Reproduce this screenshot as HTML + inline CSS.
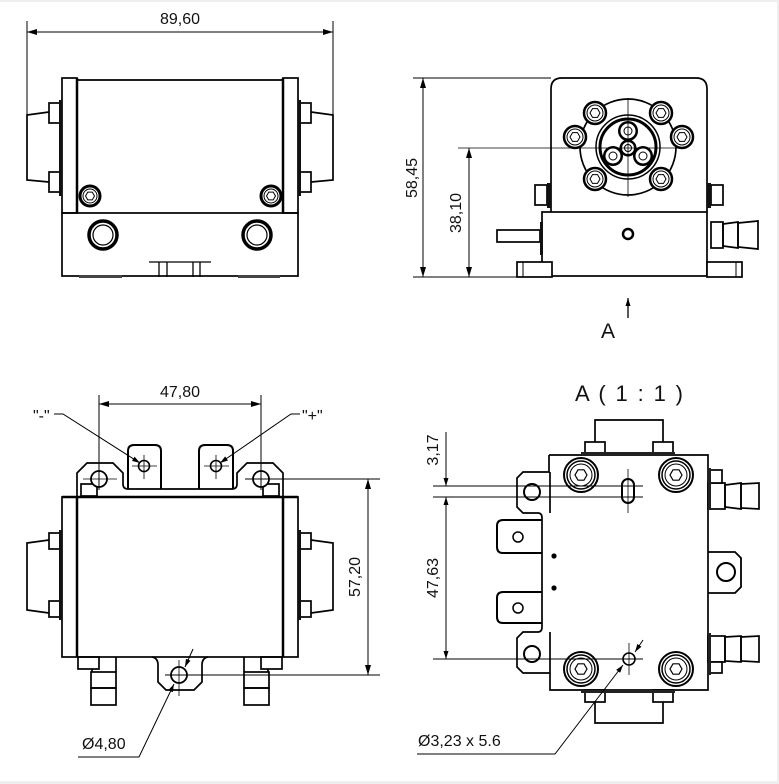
<!DOCTYPE html>
<html><head><meta charset="utf-8"><style>
html,body{margin:0;padding:0;background:#fff;}
svg{display:block;}
text{font-family:"Liberation Sans",sans-serif;fill:#111;stroke:none;}
</style></head><body>
<svg width="779" height="784" viewBox="0 0 779 784" xmlns="http://www.w3.org/2000/svg">
<defs>
<marker id="ar" viewBox="0 0 10 6" refX="10" refY="3" markerWidth="10" markerHeight="6" markerUnits="userSpaceOnUse" orient="auto-start-reverse"><path d="M0,0 L10,3 L0,6 z" fill="#000"/></marker>
<marker id="as" viewBox="0 0 8 5" refX="8" refY="2.5" markerWidth="8" markerHeight="5" markerUnits="userSpaceOnUse" orient="auto-start-reverse"><path d="M0,0 L8,2.5 L0,5 z" fill="#000"/></marker>
<g id="bA"><circle r="10" fill="#fff" stroke="#000" stroke-width="3"/><circle r="7" fill="none" stroke="#000" stroke-width="1"/><polygon points="4.5,0 2.25,3.9 -2.25,3.9 -4.5,0 -2.25,-3.9 2.25,-3.9" fill="none" stroke="#000" stroke-width="1"/></g>
<g id="bB"><circle r="11" fill="#fff" stroke="#000" stroke-width="2.5"/><circle r="8" fill="none" stroke="#000" stroke-width="1"/><polygon points="5,0 2.5,4.33 -2.5,4.33 -5,0 -2.5,-4.33 2.5,-4.33" fill="none" stroke="#000" stroke-width="1"/></g>
<g id="bC"><circle r="17" fill="#fff" stroke="#000" stroke-width="2"/><circle r="14" fill="none" stroke="#000" stroke-width="1.5"/><circle r="11" fill="none" stroke="#000" stroke-width="1"/><polygon points="6,0 3,5.2 -3,5.2 -6,0 -3,-5.2 3,-5.2" fill="none" stroke="#000" stroke-width="1.2"/></g>
</defs>
<rect width="779" height="784" fill="#fff"/>
<rect x="0" y="0" width="779" height="2" fill="#eee"/>
<rect x="777" y="0" width="2" height="784" fill="#eee"/>
<rect x="0" y="781" width="779" height="3" fill="#eee"/>

<!-- ============ TOP-LEFT VIEW ============ -->
<g fill="none" stroke="#000" stroke-width="1.7">
  <rect x="62" y="78" width="15" height="135"/>
  <rect x="283" y="78" width="15" height="135"/>
  <line x1="77" y1="80" x2="283" y2="80"/>
  <rect x="62" y="213" width="236" height="63"/>
  <line x1="77" y1="78" x2="77" y2="213" stroke-width="2.5"/>
  <line x1="283" y1="78" x2="283" y2="213" stroke-width="2.5"/>
  <path d="M49,112 L27,115 L27,180 L49,182"/>
  <path d="M311,112 L333,115 L333,180 L311,182"/>
  <rect x="49" y="103" width="12" height="20" fill="#fff"/>
  <rect x="49" y="172" width="12" height="20" fill="#fff"/>
  <rect x="299" y="103" width="12" height="20" fill="#fff"/>
  <rect x="299" y="172" width="12" height="20" fill="#fff"/>
  <circle cx="103" cy="235" r="14" stroke-width="3.5"/>
  <circle cx="103" cy="235" r="10" stroke-width="1.2"/>
  <circle cx="257" cy="235" r="14" stroke-width="3.5"/>
  <circle cx="257" cy="235" r="10" stroke-width="1.2"/>
  <line x1="149" y1="262" x2="211" y2="262" stroke-width="1.3"/>
  <line x1="159" y1="262" x2="159" y2="277" stroke-width="1.3"/>
  <line x1="167" y1="262" x2="167" y2="277" stroke-width="1.3"/>
  <line x1="193" y1="262" x2="193" y2="277" stroke-width="1.3"/>
  <line x1="200" y1="262" x2="200" y2="277" stroke-width="1.3"/>
</g>
<rect x="59" y="100" width="3" height="96" fill="#111"/>
<rect x="298" y="100" width="3" height="96" fill="#111"/>
<rect x="79" y="275" width="43" height="3" fill="#444"/>
<rect x="238" y="275" width="42" height="3" fill="#444"/>
<use href="#bA" x="90" y="196"/>
<use href="#bA" x="271" y="196"/>
<g stroke="#000" stroke-width="1" fill="none">
  <line x1="27" y1="21" x2="27" y2="115"/>
  <line x1="333" y1="21" x2="333" y2="115"/>
  <line x1="27" y1="32" x2="333" y2="32" marker-start="url(#ar)" marker-end="url(#ar)"/>
</g>
<text x="180" y="24" font-size="16" text-anchor="middle">89,60</text>

<!-- ============ TOP-RIGHT VIEW ============ -->
<g fill="none" stroke="#000" stroke-width="1.7">
  <path d="M551,212 L551,89 Q551,78 562,78 L696,78 Q707,78 707,89 L707,212"/>
  <rect x="542" y="212" width="165" height="64"/>
  <rect x="517" y="262" width="35" height="15" fill="#fff"/>
  <line x1="523" y1="262" x2="523" y2="277" stroke-width="1"/>
  <rect x="707" y="262" width="35" height="15" fill="#fff"/>
  <line x1="736" y1="262" x2="736" y2="277" stroke-width="1"/>
  <rect x="497" y="230" width="43" height="12"/>
  <rect x="535" y="185" width="12" height="20"/>
  <rect x="711" y="185" width="12" height="20"/>
  <rect x="711" y="222" width="12" height="26"/>
  <polygon points="723,224 738,222 738,248 723,246"/>
  <polygon points="738,223 758,221 758,249 738,247"/>
  <circle cx="628" cy="234" r="5" stroke-width="2.5"/>
  <circle cx="628" cy="147" r="48"/>
  <circle cx="628" cy="147" r="32" stroke-width="1.5"/>
  <circle cx="628" cy="147" r="28" stroke-width="3"/>
</g>
<rect x="540" y="222" width="3" height="33" fill="#111"/>
<rect x="547" y="183" width="4" height="25" fill="#111"/>
<rect x="707" y="183" width="4" height="25" fill="#111"/>
<g stroke="none">
  <circle cx="628" cy="131" r="10" fill="#000"/>
  <circle cx="613" cy="156" r="10" fill="#000"/>
  <circle cx="643" cy="156" r="10" fill="#000"/>
  <circle cx="628" cy="148" r="8.5" fill="#000"/>
  <circle cx="628" cy="131" r="7.5" fill="#fff"/>
  <circle cx="613" cy="156" r="7.5" fill="#fff"/>
  <circle cx="643" cy="156" r="7.5" fill="#fff"/>
  <circle cx="628" cy="148" r="6" fill="#fff"/>
</g>
<g fill="none" stroke="#000" stroke-width="1">
  <circle cx="628" cy="131" r="4"/>
  <circle cx="613" cy="156" r="4"/>
  <circle cx="643" cy="156" r="4"/>
  <circle cx="628" cy="148" r="3.5"/>
</g>
<use href="#bB" x="595" y="113"/>
<use href="#bB" x="661" y="113"/>
<use href="#bB" x="575" y="137"/>
<use href="#bB" x="682" y="137"/>
<use href="#bB" x="595" y="179"/>
<use href="#bB" x="661" y="179"/>
<g stroke="#000" stroke-width="1" fill="none">
  <line x1="628" y1="98" x2="628" y2="197" stroke-width="0.8"/>
  <line x1="458" y1="148" x2="682" y2="148" stroke-width="0.8"/>
  <line x1="413" y1="78" x2="551" y2="78"/>
  <line x1="413" y1="277" x2="517" y2="277"/>
  <line x1="423" y1="78" x2="423" y2="277" marker-start="url(#ar)" marker-end="url(#ar)"/>
  <line x1="469" y1="148" x2="469" y2="277" marker-start="url(#ar)" marker-end="url(#ar)"/>
  <line x1="628" y1="318" x2="628" y2="298" stroke-width="1.3" marker-end="url(#as)"/>
</g>
<text transform="translate(417,178) rotate(-90)" font-size="16" text-anchor="middle">58,45</text>
<text transform="translate(461,213) rotate(-90)" font-size="16" text-anchor="middle">38,10</text>
<text x="608" y="338" font-size="21" text-anchor="middle">A</text>

<!-- ============ BOTTOM-LEFT VIEW ============ -->
<g fill="none" stroke="#000" stroke-width="1.7">
  <line x1="92" y1="657" x2="92" y2="672"/>
  <rect x="91" y="672" width="25" height="16"/>
  <rect x="91" y="688" width="25" height="17"/>
  <line x1="116" y1="657" x2="116" y2="672"/>
  <rect x="78" y="657" width="21" height="12" fill="#fff"/>
  <line x1="268" y1="657" x2="268" y2="672"/>
  <rect x="244" y="672" width="25" height="16"/>
  <rect x="244" y="688" width="25" height="17"/>
  <line x1="244" y1="657" x2="244" y2="672"/>
  <rect x="261" y="657" width="21" height="12" fill="#fff"/>
  <rect x="62" y="497" width="236" height="160"/>
  <line x1="62" y1="497" x2="298" y2="497" stroke-width="2.5"/>
  <line x1="77" y1="497" x2="77" y2="657" stroke-width="2.5"/>
  <line x1="283" y1="497" x2="283" y2="657" stroke-width="2.5"/>
  <path d="M49,540 L27,543 L27,610 L49,613"/>
  <path d="M311,540 L333,543 L333,610 L311,613"/>
  <rect x="49" y="533" width="12" height="16" fill="#fff"/>
  <rect x="49" y="601" width="12" height="16" fill="#fff"/>
  <rect x="299" y="533" width="12" height="16" fill="#fff"/>
  <rect x="299" y="601" width="12" height="16" fill="#fff"/>
  <path d="M77,497 L77,473 L87,463 L113,463 L123,473 L123,484 Q123,489 128,489 L232,489 Q237,489 237,484 L237,473 L247,463 L273,463 L283,473 L283,497"/>
  <rect x="81" y="484" width="16" height="12" fill="#fff"/>
  <rect x="263" y="484" width="16" height="12" fill="#fff"/>
  <path d="M128,489 L128,451 Q128,445 134,445 L155,445 Q161,445 161,451 L161,489" stroke-width="2"/>
  <path d="M199,489 L199,451 Q199,445 205,445 L227,445 Q233,445 233,451 L233,489" stroke-width="2"/>
  <circle cx="144" cy="466" r="5.5" stroke-width="1.6"/>
  <circle cx="216" cy="466" r="5.5" stroke-width="1.6"/>
  <circle cx="99" cy="479" r="8" stroke-width="1.8" fill="#fff"/>
  <circle cx="261" cy="479" r="8" stroke-width="1.8" fill="#fff"/>
  <path d="M152,657 Q158,658 158,665 L158,682 L166,690 L194,690 L202,682 L202,665 Q202,658 208,657"/>
  <circle cx="179" cy="675" r="8" stroke-width="1.8"/>
</g>
<rect x="59" y="530" width="3" height="90" fill="#111"/>
<rect x="298" y="530" width="3" height="90" fill="#111"/>
<g stroke="#000" stroke-width="1" fill="none">
  <line x1="144" y1="455" x2="144" y2="479" stroke-width="0.8"/>
  <line x1="132" y1="466" x2="157" y2="466" stroke-width="0.8"/>
  <line x1="216" y1="455" x2="216" y2="479" stroke-width="0.8"/>
  <line x1="204" y1="466" x2="229" y2="466" stroke-width="0.8"/>
  <line x1="99" y1="395" x2="99" y2="490"/>
  <line x1="83" y1="479" x2="117" y2="479" stroke-width="0.8"/>
  <line x1="261" y1="395" x2="261" y2="490"/>
  <line x1="245" y1="479" x2="380" y2="479"/>
  <line x1="99" y1="404" x2="261" y2="404" marker-start="url(#ar)" marker-end="url(#ar)"/>
  <path d="M54,414 L63,414 L140,463" marker-end="url(#as)"/>
  <path d="M300,414 L291,414 L220,463" marker-end="url(#as)"/>
  <line x1="165" y1="675" x2="380" y2="675"/>
  <line x1="179" y1="660" x2="179" y2="696" stroke-width="0.8"/>
  <line x1="368" y1="479" x2="368" y2="675" marker-start="url(#ar)" marker-end="url(#ar)"/>
  <path d="M78,757 L139,757 L174,684" marker-end="url(#as)"/>
  <path d="M193,649 L185,667" marker-end="url(#as)"/>
</g>
<text x="180" y="397" font-size="16" text-anchor="middle">47,80</text>
<text x="33" y="421" font-size="16">"-"</text>
<text x="302" y="421" font-size="16">"+"</text>
<text transform="translate(360,577) rotate(-90)" font-size="16" text-anchor="middle">57,20</text>
<text x="82" y="749" font-size="16">Ø4,80</text>

<!-- ============ BOTTOM-RIGHT VIEW ============ -->
<text x="575" y="401" font-size="22" textLength="108" lengthAdjust="spacing">A ( 1 : 1 )</text>
<g fill="none" stroke="#000" stroke-width="1.7">
  <path d="M595,442 L595,420 L663,420 L663,442"/>
  <rect x="585" y="442" width="20" height="11" fill="#fff"/>
  <rect x="653" y="442" width="20" height="11" fill="#fff"/>
  <path d="M595,690 L595,723 L663,723 L663,690"/>
  <rect x="585" y="690" width="20" height="12" fill="#fff"/>
  <rect x="653" y="690" width="20" height="12" fill="#fff"/>
  <path d="M549,455 L708,455 L708,690 L550,690 L550,673"/>
  <path d="M549,455 L549,472 L523,472 L517,478 L517,507 L523,513 L538,513 Q542,513 542,518 L542,627 Q542,632 538,632 L523,632 L517,638 L517,667 L523,673 L550,673"/>
  <line x1="550" y1="472" x2="550" y2="513"/>
  <line x1="550" y1="632" x2="550" y2="673"/>
  <path d="M708,552 L735,552 L741,558 L741,587 L735,593 L708,593" stroke-width="1.8"/>
  <circle cx="726" cy="572" r="9" stroke-width="2"/>
  <path d="M542,520 L503,520 Q497,520 497,526 L497,547 Q497,553 503,553 L542,553" stroke-width="2"/>
  <path d="M542,592 L503,592 Q497,592 497,598 L497,617 Q497,623 503,623 L542,623" stroke-width="2"/>
  <circle cx="518" cy="537" r="5" stroke-width="1.5"/>
  <circle cx="518" cy="608" r="5" stroke-width="1.5"/>
  <circle cx="532" cy="492" r="8" stroke-width="2"/>
  <circle cx="532" cy="654" r="8" stroke-width="2"/>
  <rect x="622" y="479" width="12" height="24" rx="6" stroke-width="2"/>
  <circle cx="629" cy="659" r="6" stroke-width="1.6"/>
  <rect x="708" y="483" width="17" height="26"/>
  <polygon points="725,485 741,483 741,509 725,507"/>
  <polygon points="741,484 759,483 759,509 741,508"/>
  <rect x="710" y="470" width="12" height="13" fill="#fff"/>
  <rect x="708" y="636" width="17" height="26"/>
  <polygon points="725,637 741,636 741,662 725,661"/>
  <polygon points="741,637 759,636 759,662 741,661"/>
  <rect x="710" y="662" width="12" height="11" fill="#fff"/>
</g>
<rect x="581" y="452" width="94" height="3" fill="#222"/>
<rect x="581" y="690" width="94" height="3" fill="#222"/>
<rect x="708" y="468" width="3" height="42" fill="#222"/>
<rect x="708" y="633" width="3" height="42" fill="#222"/>
<circle cx="554" cy="556" r="2.6" fill="#000"/>
<circle cx="554" cy="588" r="2.6" fill="#000"/>
<use href="#bC" x="581" y="475"/>
<use href="#bC" x="676" y="475"/>
<use href="#bC" x="581" y="669"/>
<use href="#bC" x="676" y="669"/>
<g stroke="#000" stroke-width="1" fill="none">
  <line x1="628" y1="469" x2="628" y2="513" stroke-width="0.8"/>
  <line x1="629" y1="643" x2="629" y2="675" stroke-width="0.8"/>
  <line x1="433" y1="486" x2="643" y2="486"/>
  <line x1="433" y1="497" x2="643" y2="497"/>
  <line x1="433" y1="659" x2="643" y2="659"/>
  <line x1="446" y1="432" x2="446" y2="486" marker-end="url(#as)"/>
  <line x1="446" y1="497" x2="446" y2="659" marker-start="url(#as)" marker-end="url(#as)"/>
  <path d="M417,754 L555,754 L623,665" marker-end="url(#as)"/>
  <path d="M643,640 L635,652" marker-end="url(#as)"/>
</g>
<text transform="translate(438,450) rotate(-90)" font-size="16" text-anchor="middle">3,17</text>
<text transform="translate(438,578) rotate(-90)" font-size="16" text-anchor="middle">47,63</text>
<text x="418" y="746" font-size="16">Ø3,23 x 5.6</text>
</svg>
</body></html>
